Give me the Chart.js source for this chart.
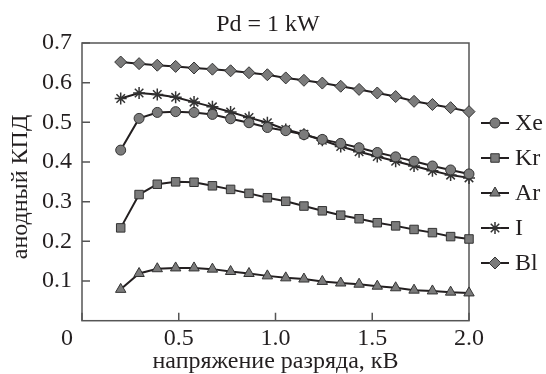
<!DOCTYPE html>
<html>
<head>
<meta charset="utf-8">
<script src="https://cdn.jsdelivr.net/npm/chart.js@4.4.0/dist/chart.umd.min.js"></script>
<style>
  html, body { margin: 0; padding: 0; background: #fff; }
  #wrap { width: 546px; height: 374px; }
</style>
</head>
<body>
<div id="wrap"><canvas id="chart"></canvas></div>
<script>
// discharge voltage, kV
const voltage = [0.2, 0.295, 0.389, 0.484, 0.579, 0.674, 0.768, 0.863, 0.958, 1.053,
                 1.147, 1.242, 1.337, 1.432, 1.526, 1.621, 1.716, 1.811, 1.905, 2.0];
// anode efficiency per propellant
const xe = [0.430, 0.510, 0.525, 0.527, 0.525, 0.520, 0.509, 0.499, 0.487, 0.479,
            0.469, 0.457, 0.447, 0.436, 0.424, 0.413, 0.402, 0.390, 0.380, 0.370];
const kr = [0.234, 0.318, 0.344, 0.350, 0.349, 0.340, 0.331, 0.321, 0.310, 0.301,
            0.289, 0.277, 0.266, 0.257, 0.247, 0.239, 0.230, 0.222, 0.212, 0.206];
const ar = [0.079, 0.119, 0.131, 0.133, 0.133, 0.130, 0.124, 0.119, 0.113, 0.108,
            0.105, 0.099, 0.095, 0.092, 0.087, 0.083, 0.077, 0.075, 0.072, 0.070];
const iod = [0.560, 0.574, 0.570, 0.563, 0.551, 0.539, 0.526, 0.512, 0.499, 0.482,
             0.470, 0.455, 0.439, 0.426, 0.414, 0.402, 0.390, 0.378, 0.367, 0.360];
const bl = [0.652, 0.648, 0.644, 0.641, 0.637, 0.634, 0.630, 0.625, 0.620, 0.612,
            0.606, 0.599, 0.591, 0.583, 0.574, 0.565, 0.553, 0.545, 0.537, 0.527];

const seriesNames = ['Xe', 'Kr', 'Ar', 'I', 'Bl'];
const xTicks = [0, 0.5, 1.0, 1.5, 2.0];
const yTicks = [0.1, 0.2, 0.3, 0.4, 0.5, 0.6, 0.7];
const chartTitle = 'Pd = 1 kW';
const xTitle = 'напряжение разряда, кВ';
const yTitle = 'анодный КПД';

const FONT = "'Liberation Serif', 'Times New Roman', Times, serif";
const INK = '#231f20';
const MARK = '#7b7b7b';

function pts(ys) {
    return voltage.map((v, i) => ({ x: v, y: ys[i] }));
}

function series(label, ys, style, radius) {
    return {
        label: label,
        data: pts(ys),
        borderColor: INK,
        borderWidth: 2,
        pointStyle: style,
        pointRadius: radius,
        pointBackgroundColor: MARK,
        pointBorderColor: '#333',
        pointBorderWidth: style === 'star' ? 1.5 : 1,
        tension: 0,
        clip: false
    };
}

// frame, inward ticks, origin label, titles and legend
const decor = {
    id: 'decor',
    beforeDatasetsDraw(chart) {
        const { ctx, chartArea: a } = chart;
        const xs = chart.scales.x, ys = chart.scales.y;
        ctx.save();
        ctx.strokeStyle = '#555';
        ctx.lineWidth = 1.5;
        ctx.strokeRect(a.left, a.top, a.right - a.left, a.bottom - a.top);
        ctx.beginPath();
        xTicks.forEach(t => {
            const px = xs.getPixelForValue(t);
            ctx.moveTo(px, a.bottom);
            ctx.lineTo(px, a.bottom - 8);
        });
        yTicks.forEach(t => {
            const py = ys.getPixelForValue(t);
            ctx.moveTo(a.left, py);
            ctx.lineTo(a.left + 8, py);
        });
        ctx.stroke();
        ctx.restore();
    },
    afterDraw(chart) {
        const { ctx, chartArea: a } = chart;
        ctx.save();
        ctx.fillStyle = INK;
        ctx.font = '24px ' + FONT;
        ctx.textAlign = 'center';
        ctx.textBaseline = 'middle';
        ctx.fillText('0', a.left - 15, 339);
        ctx.fillText(chartTitle, 268, 25);

        ctx.save();
        ctx.translate(21, 187);
        ctx.rotate(-Math.PI / 2);
        ctx.fillText(yTitle, 0, 0);
        ctx.restore();

        // legend
        chart.data.datasets.forEach((ds, i) => {
            const y = 123 + i * 35;
            ctx.strokeStyle = INK;
            ctx.lineWidth = 2;
            ctx.beginPath();
            ctx.moveTo(481, y);
            ctx.lineTo(509, y);
            ctx.stroke();
            ctx.fillStyle = ds.pointBackgroundColor;
            ctx.strokeStyle = ds.pointBorderColor;
            ctx.lineWidth = ds.pointBorderWidth;
            Chart.helpers.drawPoint(ctx, {
                pointStyle: ds.pointStyle, radius: ds.pointRadius,
                borderWidth: ds.pointBorderWidth, rotation: 0
            }, 495, y);
            ctx.fillStyle = INK;
            ctx.textAlign = 'left';
            ctx.fillText(ds.label, 515, y + 1);
        });
        ctx.restore();
    }
};

new Chart(document.getElementById('chart'), {
    type: 'line',
    data: {
        datasets: [
            series(seriesNames[0], xe, 'circle', 5),
            series(seriesNames[1], kr, 'rect', 6),
            series(seriesNames[2], ar, 'triangle', 6),
            series(seriesNames[3], iod, 'star', 6),
            series(seriesNames[4], bl, 'rectRot', 6)
        ]
    },
    options: {
        responsive: true,
        maintainAspectRatio: false,
        animation: false,
        devicePixelRatio: 1,
        layout: { padding: { top: 43, right: 77, left: 0, bottom: 0 } },
        plugins: {
            legend: { display: false },
            title: { display: false },
            tooltip: { enabled: false }
        },
        scales: {
            x: {
                type: 'linear',
                min: 0,
                max: 2.0,
                afterFit: s => { s.height = 53.3; },
                afterBuildTicks: s => { s.ticks = xTicks.map(v => ({ value: v })); },
                grid: { display: false, drawTicks: false },
                border: { display: false },
                ticks: {
                    padding: 4,
                    color: INK,
                    font: { family: FONT, size: 24 },
                    maxRotation: 0,
                    callback: v => v === 0 ? '' : v.toFixed(1)
                },
                title: {
                    display: true,
                    text: xTitle,
                    color: INK,
                    font: { family: FONT, size: 24, lineHeight: 1 },
                    padding: { top: 0, bottom: 0 }
                }
            },
            y: {
                type: 'linear',
                min: 0,
                max: 0.7,
                afterFit: s => { s.width = 82; },
                afterBuildTicks: s => { s.ticks = yTicks.map(v => ({ value: v })); },
                grid: { display: false, drawTicks: false },
                border: { display: false },
                ticks: {
                    padding: 10,
                    color: INK,
                    font: { family: FONT, size: 24 },
                    callback: v => v.toFixed(1)
                },
                title: { display: false }
            }
        }
    },
    plugins: [decor]
});
</script>
</body>
</html>
